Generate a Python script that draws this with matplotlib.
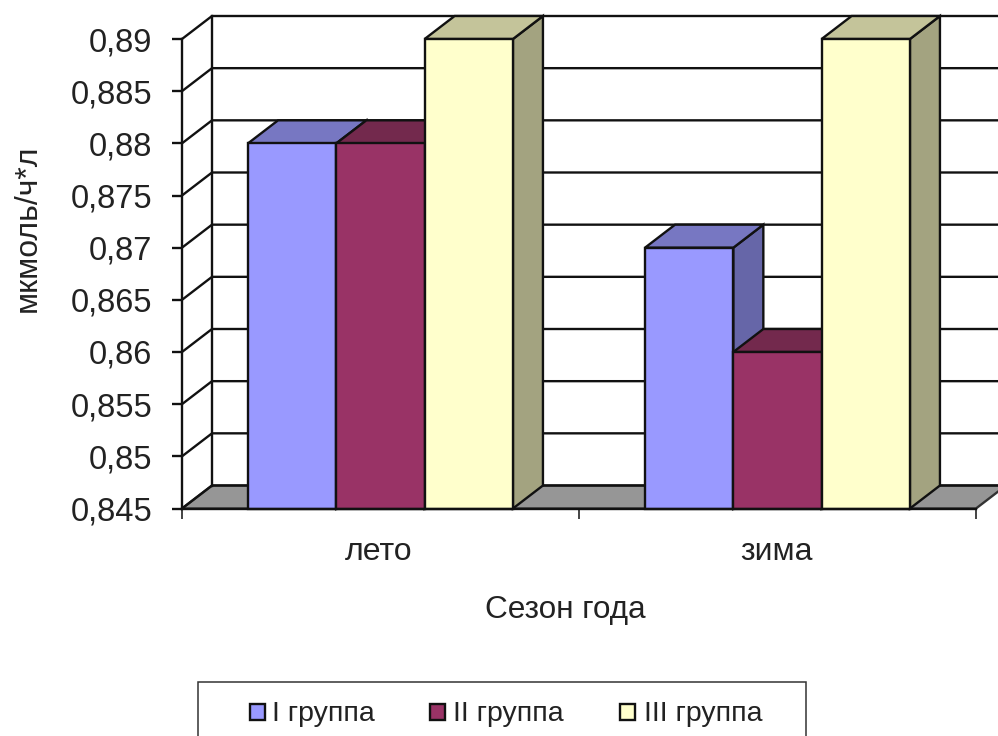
import numpy as np
import matplotlib
matplotlib.use('Agg')
import matplotlib.pyplot as plt
from matplotlib.patches import Polygon, Rectangle

plt.rcParams['font.family'] = ['Liberation Sans', 'DejaVu Sans']

seasons = ['лето', 'зима']
groups = ['I группа', 'II группа', 'III группа']
group1 = [0.88, 0.87]
group2 = [0.88, 0.86]
group3 = [0.89, 0.89]
y_ticks = [0.845, 0.85, 0.855, 0.86, 0.865, 0.87, 0.875, 0.88, 0.885, 0.89]
y_labels = ['0,845', '0,85', '0,855', '0,86', '0,865', '0,87', '0,875', '0,88', '0,885', '0,89']

front_colors = ['#9999FF', '#993366', '#FFFFCC']
top_colors = ['#7777C2', '#73294D', '#C4C49A']
side_colors = ['#6666A8', '#5F2040', '#A3A380']

W, H = 998, 736
line = '#111111'
text_color = '#222222'
lw = 1.7

fig = plt.figure(figsize=(W / 100, H / 100), dpi=100)
# plot area in pixels: x 182..976, y 39..508.5
ax = fig.add_axes([182 / W, 1 - 508.5 / H, (976 - 182) / W, (508.5 - 39) / H])
ax.set_xlim(0, 2)
ax.set_ylim(y_ticks[0], y_ticks[-1])
ax.patch.set_visible(False)

# depth of the 3d effect in data units
dx = 30 / 397
dy = 23 / (469.5 / (y_ticks[-1] - y_ticks[0]))

# floor
ax.add_patch(Polygon([(0, y_ticks[0]), (2, y_ticks[0]), (2 + dx, y_ticks[0] + dy), (dx, y_ticks[0] + dy)],
                     closed=True, fc='#969696', ec='#333333', lw=lw, zorder=1, clip_on=False))
# walls and grid
for t in y_ticks:
    ax.plot([0, dx, 2 + dx], [t, t + dy, t + dy], color=line, lw=lw, zorder=2, clip_on=False,
            solid_joinstyle='miter')
ax.plot([dx, dx], [y_ticks[0] + dy, y_ticks[-1] + dy], color=line, lw=lw, zorder=2, clip_on=False)

# bars, drawn left to right so that the nearer faces overlap
bar_w = 88.3 / 397
gap = (1 - 3 * bar_w) / 2
z = 3
for c, season in enumerate(seasons):
    for g, vals in enumerate([group1, group2, group3]):
        x0 = c + gap + g * bar_w
        x1 = x0 + bar_w
        v = vals[c]
        base = y_ticks[0]
        ax.add_patch(Polygon([(x1, base), (x1 + dx, base + dy), (x1 + dx, v + dy), (x1, v)], closed=True,
                             fc=side_colors[g], ec=line, lw=lw, zorder=z, clip_on=False))
        ax.add_patch(Polygon([(x0, v), (x1, v), (x1 + dx, v + dy), (x0 + dx, v + dy)], closed=True,
                             fc=top_colors[g], ec=line, lw=lw, zorder=z, clip_on=False))
        ax.add_patch(Rectangle((x0, base), bar_w, v - base,
                               fc=front_colors[g], ec=line, lw=lw, zorder=z + 1, clip_on=False))
        z += 2

for s in ['top', 'right']:
    ax.spines[s].set_visible(False)
for s in ['left', 'bottom']:
    ax.spines[s].set_linewidth(lw)
    ax.spines[s].set_color(line)
    ax.spines[s].set_zorder(50)

ax.set_yticks(y_ticks)
ax.set_yticklabels(y_labels, fontsize=23.5, color=text_color)
ax.tick_params(axis='y', length=7, width=lw, color=line, pad=14.5)
ax.set_xticks([0, 1, 2])
ax.set_xticklabels([])
ax.tick_params(axis='x', which='major', length=7, width=1.1, color=line)

# category and axis titles sit off-centre in the original, so place them by hand
fig.text(379 / W, 1 - 552 / H, seasons[0], fontsize=23, ha='center', va='center', color=text_color)
fig.text(777 / W, 1 - 552 / H, seasons[1], fontsize=23, ha='center', va='center', color=text_color)
fig.text(565.5 / W, 1 - 610 / H, 'Сезон года', fontsize=22.7, ha='center', va='center', color=text_color)
fig.text(28 / W, 1 - 228 / H, 'мкмоль/ч*л', fontsize=23, ha='center', va='center', rotation=90, color=text_color)

# legend box runs off the bottom of the picture
fig.add_artist(Rectangle((198 / W, -0.02), (806 - 198) / W, (736 - 682) / H + 0.02,
                         transform=fig.transFigure, fc='white', ec='#333333', lw=1.1))
leg_boxes = [250, 430, 620]
leg_text = [272, 453, 644]
for g, name in enumerate(groups):
    fig.add_artist(Rectangle((leg_boxes[g] / W, 1 - 720 / H), 15 / W, 16 / H, transform=fig.transFigure,
                             fc=front_colors[g], ec=line, lw=lw))
    fig.text(leg_text[g] / W, 1 - 714 / H, name, fontsize=20.5, va='center', ha='left', color=text_color)

fig.savefig('out.png', dpi=100)
